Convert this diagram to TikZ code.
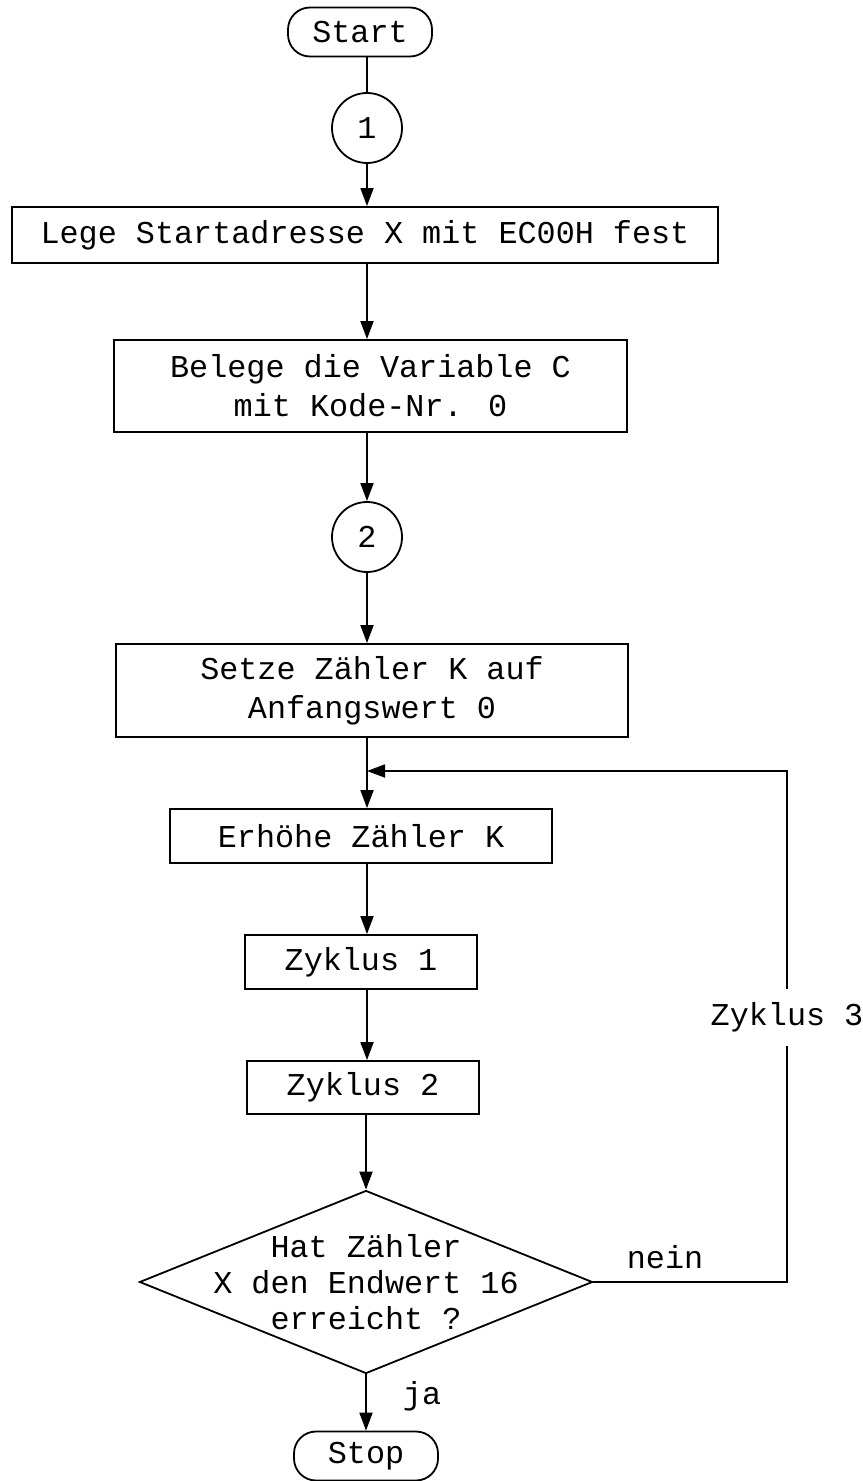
\documentclass[tikz,border=0pt]{standalone}
\usepackage{fontspec}
\setmainfont{Liberation Mono}
\usetikzlibrary{shapes.geometric, arrows.meta}
\tikzset{
	every node/.style={font=\fontsize{15.9}{19.5}\selectfont},
	box/.style={draw, rectangle, align=center, inner sep=0pt},
	term/.style={draw, rectangle, rounded corners=11pt, inner sep=0pt, minimum width=72pt, minimum height=24.5pt},
	conn/.style={draw, circle, inner sep=0pt, minimum size=35pt},
	test/.style={draw, diamond, inner sep=0pt, minimum width=226.5pt, minimum height=91.5pt},
	arr/.style={-{Triangle[length=9pt, width=6.5pt]}},
}
\begin{document}
\begin{tikzpicture}[x=0.5pt, y=-0.5pt, line width=0.9pt]
	\useasboundingbox (0,0) rectangle (862,1481);
	\node [term] (start) at (360,32) {Start};
	\node [conn] (one) at (367,128) {1};
	\node [box, minimum width=353pt, minimum height=28pt] (setx) at (365,235) {Lege Startadresse X mit EC00H fest};
	\node [box, minimum width=256.5pt, minimum height=46pt] (setc) at (370.5,386) {Belege die Variable C\\mit Kode-Nr. 0};
	\node [conn] (two) at (367,537) {2};
	\node [box, minimum width=256pt, minimum height=46.5pt] (setk) at (372,690.5) {Setze Zähler K auf\\Anfangswert 0};
	\node [box, minimum width=191pt, minimum height=27pt] (inck) at (361,836) {Erhöhe Zähler K};
	\node [box, minimum width=116pt, minimum height=27pt] (cyc1) at (361,962) {Zyklus 1};
	\node [box, minimum width=116pt, minimum height=26.5pt] (cyc2) at (363,1087.5) {Zyklus 2};
	\node [test] (test) at (366,1282) {};
	\node [align=center, font=\fontsize{15.9}{18}\selectfont] (testtext) at (test) {Hat Zähler\\X den Endwert 16\\erreicht ?};
	\node [term] (stop) at (366,1456) {Stop};
	\node [inner sep=0pt, minimum height=27.5pt] (cyc3) at (787,1017.5) {Zyklus 3};
	\node (nein) at (665,1257) {nein};
	\node (ja) at (422,1396) {ja};
	\coordinate (merge) at (367,771);
	\coordinate (corner1) at (787,1282);
	\coordinate (corner2) at (787,771);
	\draw (start.south -| one) -- (one);
	\draw [arr] (one) -- (setx.north -| one);
	\draw [arr] (setx.south -| one) -- (setc.north -| one);
	\draw [arr] (setc.south -| one) -- (two);
	\draw [arr] (two) -- (setk.north -| two);
	\draw [arr] (setk.south -| two) -- (inck.north -| two);
	\draw [arr] (inck.south -| two) -- (cyc1.north -| two);
	\draw [arr] (cyc1.south -| two) -- (cyc2.north -| two);
	\draw [arr] (cyc2.south -| test) -- (test.north);
	\draw [arr] (test.south) -- (stop.north -| test);
	\draw (test.east) -- (corner1) -- (cyc3.south);
	\draw [arr] (cyc3.north) -- (corner2) -- (merge);
\end{tikzpicture}
\end{document}
